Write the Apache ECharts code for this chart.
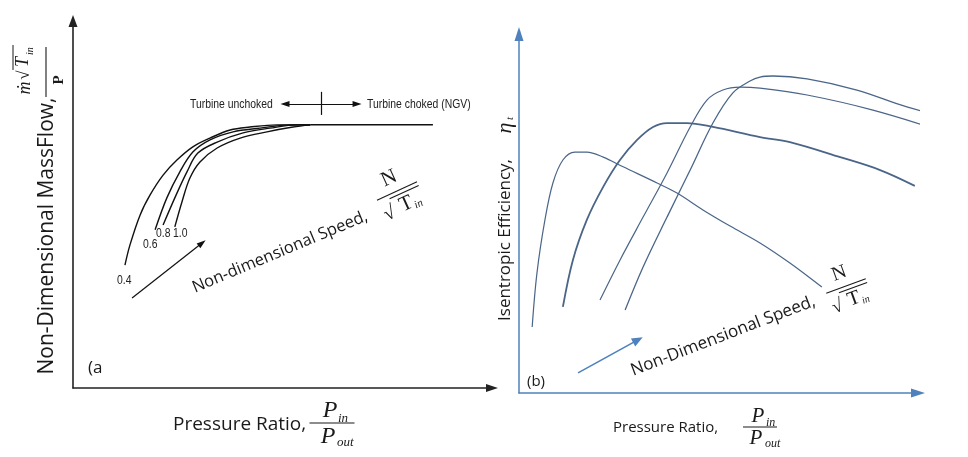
<!DOCTYPE html>
<html><head><meta charset="utf-8">
<script src="https://cdn.jsdelivr.net/npm/echarts@6/dist/echarts.min.js"></script>
<style>html,body{margin:0;padding:0;background:#fff}#c{width:968px;height:457px}</style>
</head><body><div id="c"></div>
<script>
// ---------- Panel (a): non-dimensional mass flow vs pressure ratio (schematic units 0-100) ----------
const speedLabelsA = ['0.4', '0.6', '0.8', '1.0'];
const massFlow04 = [[12.4,33.5],[13.6,39.0],[16.0,47.1],[18.4,52.6],[21.5,58.0],[24.8,62.1],[28.6,65.7],[32.7,68.1],[37.5,70.3],[42.2,71.1],[48.7,71.7],[56.6,71.7]];
const massFlow06 = [[19.6,43.1],[22.4,51.8],[25.5,58.9],[28.6,64.3],[32.7,67.6],[38.2,69.8],[44.6,70.8],[51.8,71.7],[56.6,71.7]];
const massFlow08 = [[21.5,44.4],[24.3,51.8],[27.2,58.9],[29.8,64.0],[34.4,67.0],[40.6,69.5],[47.0,70.8],[53.5,71.7],[56.6,71.7]];
const massFlow10 = [[24.3,43.9],[26.0,50.7],[27.9,57.2],[30.3,61.6],[34.4,65.4],[39.9,68.1],[46.3,69.8],[52.5,71.1],[56.6,71.7]];
const chokedLine = [[56.6,71.7],[85.9,71.7]];
const chokeArrow = [[50.6,77.4],[67.8,77.4]];
const chokeTick = [[59.2,80.7],[59.2,74.4]];
const speedArrowA = [[14.1,24.5],[30.8,39.5]];

// ---------- Panel (b): isentropic efficiency vs pressure ratio (schematic units 0-100) ----------
const eff1 = [[3.3,18.4],[4.5,33.4],[6.5,48.2],[8.5,58.5],[11.0,64.9],[14.0,67.1],[17.0,67.1],[21.1,65.7],[26.1,63.0],[34.6,58.5],[39.6,55.7],[46.1,51.0],[52.9,46.5],[60.4,41.8],[67.9,36.2],[75.9,29.5]];
const eff2 = [[11.0,24.0],[13.5,37.0],[17.0,48.2],[21.1,57.4],[25.3,64.9],[29.6,70.5],[33.6,74.1],[37.1,75.2],[42.1,75.2],[48.6,74.1],[60.4,71.3],[67.9,69.9],[80.5,65.7],[90.5,62.1],[99.2,57.7]];
const eff3 = [[20.3,25.9],[25.3,37.0],[31.1,49.0],[37.1,61.3],[42.9,74.1],[47.1,81.6],[51.1,84.4],[55.4,85.2],[60.4,84.9],[72.2,83.0],[88.7,78.8],[106.8,72.7]];
const eff4 = [[26.6,23.1],[31.1,35.1],[37.1,49.0],[42.9,62.1],[48.6,75.2],[53.6,83.6],[57.9,86.9],[60.4,88.0],[63.7,88.3],[72.2,87.5],[84.7,84.4],[97.2,79.7],[112.5,75.2]];
const speedArrowB = [[14.8,5.6],[29.8,14.8]];

const SANS = '"Open Sans","Noto Sans",sans-serif';
const SERIF = '"Liberation Serif","DejaVu Serif",serif';
const NARROW = '"Liberation Sans",Arial,sans-serif';
const INK = '#1a1a1a';
const BLUE = '#4f81bd';
const CURVE_B = '#4a6588';

function T(x, y, text, size, family, o) {
  o = o || {};
  return {type: 'text', x: x, y: y, rotation: o.rot || 0, scaleX: o.sx || 1, silent: true,
    style: {text: text, fontSize: size, fontFamily: family, fontStyle: o.italic ? 'italic' : 'normal',
      fontWeight: o.bold ? 'bold' : 'normal', fill: o.color || INK, align: o.align || 'center', verticalAlign: o.va || 'middle'}};
}
function L(x1, y1, x2, y2, color, w) {
  return {type: 'line', silent: true, shape: {x1: x1, y1: y1, x2: x2, y2: y2}, style: {stroke: color || INK, lineWidth: w || 1}};
}
function fracP(cx, cy, s, bar, color) {
  const sub = Math.round(s * 0.55);
  return {type: 'group', x: cx, y: cy, children: [
    L(-bar / 2, 0, bar / 2, 0, color, 1.1),
    T(-2, -s * 0.5, 'P', s, SERIF, {italic: true, color: color}),
    T(6, -s * 0.2, 'in', sub, SERIF, {italic: true, color: color, align: 'left'}),
    T(-4, s * 0.55, 'P', s, SERIF, {italic: true, color: color}),
    T(5, s * 0.8, 'out', sub, SERIF, {italic: true, color: color, align: 'left'})
  ]};
}
function fracN(cx, cy, rot, s, bar, color) {
  return {type: 'group', x: cx, y: cy, rotation: rot, children: [
    L(-bar / 2, 0, bar / 2, 0, color, 1.1),
    L(-bar / 2 + 12, 4, bar / 2, 4, color, 1.1),
    T(-2, -s * 0.7, 'N', s, SERIF, {color: color}),
    T(-bar / 2 + 6, s * 0.85, '\u221A', s * 0.95, SERIF, {color: color}),
    T(3, s * 0.75, 'T', s, SERIF, {color: color}),
    T(10, s * 1.0, 'in', Math.round(s * 0.5), SERIF, {italic: true, color: color, align: 'left'})
  ]};
}

const NARROW_OPT = {align: 'left', color: '#222', sx: 0.8};
const graphics = [
  // panel (a)
  T(47, 236, 'Non-Dimensional MassFlow,', 21, SANS, {rot: Math.PI / 2}),
  {type: 'group', x: 46, y: 72, rotation: Math.PI / 2, children: [
    L(-25, 0, 25, 0, INK, 1.1),
    T(-16, -21, '\u1E41', 18, SERIF, {italic: true}),
    T(-3, -21, '\u221A', 17, SERIF),
    T(10, -23, 'T', 18, SERIF, {italic: true}),
    T(17, -16, 'in', 10, SERIF, {italic: true, align: 'left'}),
    L(2, -33, 27, -33, INK, 1),
    T(-8, 13, 'P', 15, SERIF, {bold: true})
  ]},
  T(173, 425, 'Pressure Ratio,', 19, SANS, {align: 'left'}),
  fracP(332, 423, 24, 45, INK),
  T(88, 368, '(a', 17, SANS, {align: 'left'}),
  T(190, 104, 'Turbine unchoked', 13, NARROW, NARROW_OPT),
  T(367, 104, 'Turbine choked (NGV)', 13, NARROW, NARROW_OPT),
  T(117, 280, speedLabelsA[0], 13, NARROW, NARROW_OPT),
  T(143, 244, speedLabelsA[1], 13, NARROW, NARROW_OPT),
  T(156, 233, speedLabelsA[2], 13, NARROW, NARROW_OPT),
  T(173, 233, speedLabelsA[3], 13, NARROW, NARROW_OPT),
  T(280, 252, 'Non-dimensional Speed,', 16.5, SANS, {rot: 0.396}),
  fracN(397, 191, 0.43, 21, 44, INK),
  // panel (b)
  T(505, 240, 'Isentropic Efficiency,', 17, SANS, {rot: Math.PI / 2}),
  {type: 'group', x: 505, y: 126, rotation: Math.PI / 2, children: [
    T(-2, 0, '\u03B7', 22, SERIF, {italic: true}),
    T(6, 5, 't', 11, SERIF, {italic: true, align: 'left'})
  ]},
  T(613, 428, 'Pressure Ratio,', 15, SANS, {align: 'left'}),
  fracP(760, 427, 21, 34, INK),
  T(527, 382, '(b)', 15, SANS, {align: 'left'}),
  T(723, 336, 'Non-Dimensional Speed,', 17, SANS, {rot: 0.367}),
  fracN(846, 286, 0.35, 20, 42, INK)
];

function lineA(data, w) {
  return {type: 'line', xAxisIndex: 0, yAxisIndex: 0, data: data, smooth: 0.35, symbol: 'none', silent: true,
    lineStyle: {color: '#111', width: w || 1.4}, clip: false};
}
function lineB(data, w) {
  return {type: 'line', xAxisIndex: 1, yAxisIndex: 1, data: data, smooth: 0.35, symbol: 'none', silent: true,
    lineStyle: {color: CURVE_B, width: w || 1.3}, clip: false};
}
function seg(pair, sym0, sym1) {
  return [{coord: pair[0], symbol: sym0}, {coord: pair[1], symbol: sym1}];
}

const chokeSeries = lineA(chokedLine, 1.5);
chokeSeries.markLine = {silent: true, animation: false, symbolSize: [6, 9], label: {show: false},
  lineStyle: {color: '#111', width: 1.2, type: 'solid'}, emphasis: {disabled: true},
  data: [seg(chokeArrow, 'triangle', 'triangle'), seg(chokeTick, 'none', 'none'), seg(speedArrowA, 'none', 'triangle')]};

const b1 = lineB(eff1, 1.2);
b1.markLine = {silent: true, animation: false, symbolSize: [9, 11], label: {show: false},
  lineStyle: {color: BLUE, width: 1.6, type: 'solid'}, emphasis: {disabled: true},
  data: [seg(speedArrowB, 'none', 'triangle')]};

function axis(color, w, size) {
  return {type: 'value', min: 0, max: 100, splitLine: {show: false}, axisTick: {show: false}, axisLabel: {show: false},
    axisLine: {show: true, onZero: false, symbol: ['none', 'triangle'], symbolSize: size, lineStyle: {color: color, width: w}}};
}

const option = {
  animation: false,
  backgroundColor: '#fff',
  grid: [
    {left: 73, top: 21, width: 419, height: 367, containLabel: false, outerBoundsMode: 'none'},
    {left: 519, top: 34, width: 399, height: 359, containLabel: false, outerBoundsMode: 'none'}
  ],
  xAxis: [Object.assign(axis('#222', 1.6, [8, 12]), {gridIndex: 0}), Object.assign(axis(BLUE, 1.5, [9, 14]), {gridIndex: 1})],
  yAxis: [Object.assign(axis('#222', 1.6, [9, 12]), {gridIndex: 0}), Object.assign(axis(BLUE, 1.5, [9, 14]), {gridIndex: 1})],
  series: [lineA(massFlow04), lineA(massFlow06), lineA(massFlow08), lineA(massFlow10), chokeSeries,
    b1, lineB(eff2, 1.8), lineB(eff3, 1.2), lineB(eff4, 1.3)],
  graphic: graphics
};
const chart = echarts.init(document.getElementById('c'), null, {renderer: 'canvas'});
chart.setOption(option);
</script></body></html>
